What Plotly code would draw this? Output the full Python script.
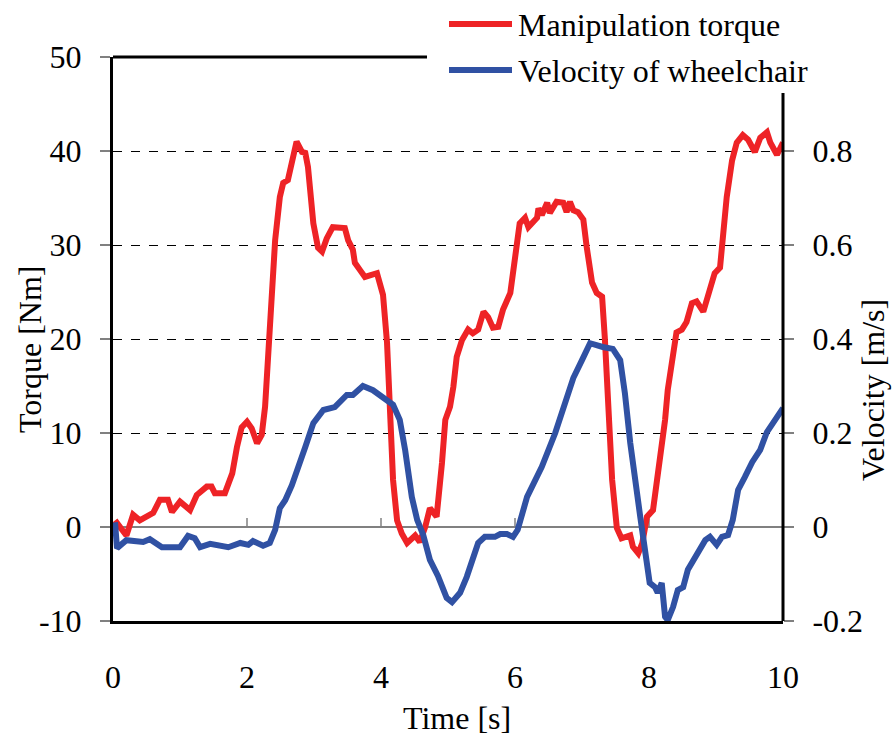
import plotly.graph_objects as go

# ---------------- data ----------------
torque_t = [0.03, 0.2, 0.3, 0.4, 0.6, 0.7, 0.82, 0.88, 1.0, 1.15, 1.25, 1.4, 1.47, 1.52, 1.67, 1.78, 1.85,
            1.92, 2.0, 2.07, 2.15, 2.22, 2.27, 2.34, 2.42, 2.49, 2.54, 2.61, 2.67, 2.74, 2.82, 2.87, 2.91,
            2.99, 3.06, 3.12, 3.19, 3.28, 3.46, 3.51, 3.58, 3.61, 3.69, 3.76, 3.94, 3.99, 4.03, 4.09, 4.13,
            4.18, 4.24, 4.31, 4.39, 4.51, 4.58, 4.66, 4.73, 4.83, 4.91, 4.96, 5.03, 5.08, 5.13, 5.21, 5.3,
            5.37, 5.45, 5.53, 5.6, 5.67, 5.75, 5.82, 5.93, 6.0, 6.07, 6.15, 6.2, 6.33, 6.35, 6.4, 6.48, 6.52,
            6.62, 6.72, 6.77, 6.82, 6.87, 6.94, 7.02, 7.07, 7.15, 7.22, 7.3, 7.34, 7.39, 7.45, 7.52, 7.59,
            7.72, 7.76, 7.84, 7.9, 7.97, 8.06, 8.12, 8.19, 8.24, 8.28, 8.36, 8.41, 8.49, 8.56, 8.64, 8.71,
            8.81, 8.88, 8.98, 9.06, 9.1, 9.16, 9.24, 9.31, 9.4, 9.48, 9.58, 9.66, 9.76, 9.81, 9.91, 10.0]
torque_v = [0.7, -0.9, 1.3, 0.7, 1.5, 2.9, 2.9, 1.6, 2.7, 1.8, 3.4, 4.3, 4.3, 3.6, 3.6, 5.7, 8.5,
            10.6, 11.2, 10.5, 8.9, 9.8, 12.8, 21.0, 30.5, 35.1, 36.6, 36.9, 38.8, 41.0, 39.9, 39.8, 38.3,
            32.3, 29.7, 29.3, 30.7, 31.9, 31.8, 30.5, 29.5, 28.1, 27.3, 26.6, 27.0, 25.5, 24.7, 19.6, 12.1,
            5.0, 0.7, -0.7, -1.7, -0.9, -1.6, 0.0, 2.0, 1.1, 6.8, 11.4, 12.8, 14.9, 18.1, 19.9, 21.0,
            20.6, 21.0, 22.9, 22.3, 21.2, 21.3, 23.1, 24.9, 28.1, 32.3, 32.9, 31.9, 32.9, 33.9, 33.2, 34.5, 33.4,
            34.6, 34.5, 33.5, 34.6, 33.7, 33.5, 32.7, 29.8, 26.0, 24.9, 24.5, 20.2, 13.8, 5.0, -0.1, -1.2,
            -0.9, -2.1, -2.8, -1.7, 1.1, 1.8, 5.0, 8.5, 11.4, 14.6, 18.8, 20.7, 21.0, 21.8, 23.8, 24.0,
            22.9, 24.5, 27.0, 27.6, 30.9, 35.1, 39.0, 40.9, 41.7, 41.2, 39.9, 41.4, 42.0, 40.9, 39.6, 40.9]

vel_t = [0.03, 0.06, 0.2, 0.45, 0.55, 0.73, 1.0, 1.12, 1.22, 1.3, 1.45, 1.72, 1.9, 2.02, 2.09, 2.24, 2.34,
         2.42, 2.49, 2.57, 2.67, 2.74, 2.87, 2.99, 3.14, 3.31, 3.49, 3.58, 3.73, 3.88, 4.03, 4.18, 4.28,
         4.36, 4.46, 4.54, 4.63, 4.73, 4.85, 4.98, 5.06, 5.18, 5.28, 5.36, 5.45, 5.55, 5.7, 5.78, 5.88,
         5.97, 6.04, 6.18, 6.3, 6.4, 6.6, 6.72, 6.87, 7.0, 7.12, 7.31, 7.46, 7.57, 7.64, 7.72, 7.79, 7.87,
         7.94, 8.01, 8.09, 8.13, 8.19, 8.24, 8.28, 8.36, 8.43, 8.51, 8.58, 8.69, 8.76, 8.84, 8.91, 9.01,
         9.09, 9.18, 9.25, 9.33, 9.43, 9.54, 9.66, 9.76, 9.85, 10.0]
vel_v = [0.01, -0.045, -0.028, -0.032, -0.026, -0.043, -0.043, -0.019, -0.024, -0.043, -0.036, -0.043,
         -0.034, -0.038, -0.03, -0.04, -0.034, -0.006, 0.04, 0.057, 0.089, 0.121, 0.17, 0.221, 0.249,
         0.255, 0.281, 0.281, 0.3, 0.291, 0.274, 0.26, 0.228, 0.164, 0.064, 0.015, -0.017, -0.07, -0.104,
         -0.151, -0.16, -0.14, -0.106, -0.07, -0.034, -0.021, -0.021, -0.015, -0.015, -0.021, -0.006,
         0.064, 0.1, 0.128, 0.2, 0.249, 0.317, 0.355, 0.391, 0.383, 0.379, 0.355, 0.285, 0.179, 0.094,
         0.021, -0.049, -0.119, -0.128, -0.14, -0.119, -0.191, -0.198, -0.17, -0.134, -0.128, -0.091,
         -0.064, -0.053, -0.028, -0.021, -0.038, -0.021, -0.017, 0.015, 0.079, 0.106, 0.138, 0.164,
         0.202, 0.221, 0.253]

x_ticks = [0, 2, 4, 6, 8, 10]
y_ticks = [-10, 0, 10, 20, 30, 40, 50]
y_ticktext = ["-10", "0", "10", "20", "30", "40", "50"]
y2_ticks = [-0.2, 0, 0.2, 0.4, 0.6, 0.8]
y2_ticktext = ["-0.2", "0", "0.2", "0.4", "0.6", "0.8"]
series_names = ["Manipulation torque", "Velocity of wheelchair"]

# ---------------- style / layout ----------------
W, H = 894, 739
L, R, T, B = 113, 111, 57, 118
RED = "#EE2326"
BLUE = "#3051A3"
FONT = "Liberation Serif"
FS = 32


def px_x(px):
    return (px - L) / (W - L - R)


def px_y(py):
    return (H - B - py) / (H - T - B)


fig = go.Figure()
fig.add_trace(go.Scatter(x=torque_t, y=torque_v, mode="lines", name=series_names[0],
                         line=dict(color=RED, width=6), showlegend=False))
fig.add_trace(go.Scatter(x=vel_t, y=vel_v, mode="lines", name=series_names[1], yaxis="y2",
                         line=dict(color=BLUE, width=6), showlegend=False))

shapes = []
# tick marks on the zero line (pointing up)
for xv in x_ticks[1:-1]:
    shapes.append(dict(type="line", xref="x", yref="y", x0=xv, x1=xv, y0=0, y1=0.95,
                       line=dict(color="#808080", width=1.5), layer="below"))
# top border (partly hidden by legend) and right border
shapes.append(dict(type="line", xref="paper", yref="paper", x0=0, x1=px_x(427), y0=1, y1=1,
                   line=dict(color="black", width=3)))
shapes.append(dict(type="line", xref="paper", yref="paper", x0=1, x1=1, y0=0, y1=px_y(93),
                   line=dict(color="black", width=3)))
# legend lines
for col, yy in [(RED, 24), (BLUE, 70)]:
    shapes.append(dict(type="line", xref="paper", yref="paper", x0=px_x(449), x1=px_x(512),
                       y0=px_y(yy), y1=px_y(yy), line=dict(color=col, width=6)))

annotations = []
for name, yy in zip(series_names, [24, 70]):
    annotations.append(dict(text=name, xref="paper", yref="paper", x=px_x(516), y=px_y(yy + 1),
                            xanchor="left", yanchor="middle", showarrow=False,
                            font=dict(family=FONT, size=FS, color="black")))
annotations.append(dict(text="Torque [Nm]", xref="paper", yref="paper", x=px_x(30), y=px_y(350),
                        xanchor="center", yanchor="middle", textangle=-90, showarrow=False,
                        font=dict(family=FONT, size=FS, color="black")))
annotations.append(dict(text="Velocity [m/s]", xref="paper", yref="paper", x=px_x(873), y=px_y(390),
                        xanchor="center", yanchor="middle", textangle=-90, showarrow=False,
                        font=dict(family=FONT, size=FS, color="black")))
annotations.append(dict(text="Time [s]", xref="paper", yref="paper", x=px_x(457), y=px_y(718),
                        xanchor="center", yanchor="middle", showarrow=False,
                        font=dict(family=FONT, size=FS, color="black")))

fig.update_layout(
    width=W, height=H,
    margin=dict(l=L, r=R, t=T, b=B, pad=0),
    paper_bgcolor="white", plot_bgcolor="white",
    font=dict(family=FONT, size=FS, color="black"),
    showlegend=False,
    xaxis=dict(range=[0, 10], tickvals=x_ticks, ticktext=[str(v) for v in x_ticks],
               showgrid=False, zeroline=False, showline=True, linecolor="black", linewidth=3,
               ticks="", ticklabelstandoff=26, fixedrange=True),
    yaxis=dict(range=[-10, 50], tickvals=y_ticks, ticktext=y_ticktext,
               showgrid=True, gridcolor="black", gridwidth=1, griddash="dash",
               zeroline=True, zerolinecolor="#808080", zerolinewidth=2,
               showline=True, linecolor="black", linewidth=3,
               ticks="outside", ticklen=10, tickcolor="#808080", tickwidth=1.5,
               ticklabelstandoff=12),
    yaxis2=dict(range=[-0.2, 1.0], overlaying="y", side="right", tickvals=y2_ticks,
                ticktext=y2_ticktext, showgrid=False, zeroline=False, showline=False,
                ticks="outside", ticklen=10, tickcolor="#808080", tickwidth=1.5,
                ticklabelstandoff=12),
    shapes=shapes,
    annotations=annotations,
)

fig.write_html("out.html")
